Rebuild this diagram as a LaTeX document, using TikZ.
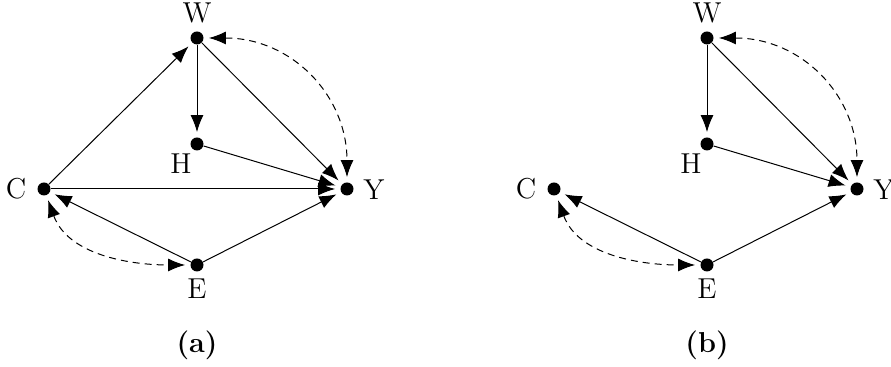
\documentclass[tikz,border=0pt]{standalone}
\usetikzlibrary{arrows.meta}
\begin{document}
\begin{tikzpicture}[x=0.5pt,y=-0.5pt,
  dot/.style={circle,fill=black,inner sep=0pt,minimum size=6.5pt},
  arr/.style={-{Latex[length=8.5pt,width=6.5pt]},shorten >=2.5pt,line width=0.5pt},
  darr/.style={{Latex[length=8.5pt,width=6.5pt]}-{Latex[length=8.5pt,width=6.5pt]},dash pattern=on 3.5pt off 2.5pt,line width=0.5pt,shorten >=2.5pt,shorten <=2.5pt},
  lab/.style={inner sep=0pt,font=\Large},
  captext/.style={font=\Large\bfseries,inner sep=0pt}]
\useasboundingbox (0,0) rectangle (891,367);
% (a)
\node[dot] (Wa) at (197,38) {};
\node[dot] (Ha) at (197,144) {};
\node[dot] (Ca) at (44,189) {};
\node[dot] (Ya) at (347,189) {};
\node[dot] (Ea) at (197,265) {};
\node[lab] (lWa) at (197,13) {W};
\node[lab] (lHa) at (181,164) {H};
\node[lab] (lCa) at (16,189) {C};
\node[lab] (lYa) at (374,190) {Y};
\node[lab] (lEa) at (197,289) {E};
\draw[arr] (Wa) -- (Ha);
\draw[arr] (Wa) -- (Ya);
\draw[arr] (Ha) -- (Ya);
\draw[arr] (Ca) -- (Wa);
\draw[arr] (Ca) -- (Ya);
\draw[arr] (Ea) -- (Ca);
\draw[arr] (Ea) -- (Ya);
\draw[darr] (Wa) to[out=0,in=90,looseness=1.1] (Ya);
\draw[darr] (Ca) to[out=-70,in=180,looseness=1.0] (Ea);
\node[captext] (capa) at (197,345) {(a)};
% (b)
\node[dot] (Wb) at (707,38) {};
\node[dot] (Hb) at (707,144) {};
\node[dot] (Cb) at (554,189) {};
\node[dot] (Yb) at (857,189) {};
\node[dot] (Eb) at (707,265) {};
\node[lab] (lWb) at (707,13) {W};
\node[lab] (lHb) at (691,164) {H};
\node[lab] (lCb) at (526,189) {C};
\node[lab] (lYb) at (884,190) {Y};
\node[lab] (lEb) at (707,289) {E};
\draw[arr] (Wb) -- (Hb);
\draw[arr] (Wb) -- (Yb);
\draw[arr] (Hb) -- (Yb);
\draw[arr] (Eb) -- (Cb);
\draw[arr] (Eb) -- (Yb);
\draw[darr] (Wb) to[out=0,in=90,looseness=1.1] (Yb);
\draw[darr] (Cb) to[out=-70,in=180,looseness=1.0] (Eb);
\node[captext] (capb) at (707,345) {(b)};
\end{tikzpicture}
\end{document}
